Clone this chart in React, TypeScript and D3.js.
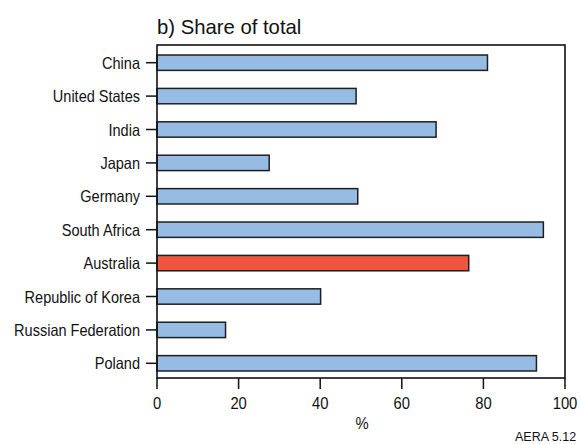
import React from "react";
import * as d3 from "d3";

const countries = [
  "China",
  "United States",
  "India",
  "Japan",
  "Germany",
  "South Africa",
  "Australia",
  "Republic of Korea",
  "Russian Federation",
  "Poland",
];
const sharePct = [81.0, 48.8, 68.4, 27.5, 49.2, 94.7, 76.4, 40.1, 16.8, 93.0];
const highlight = "Australia";
const xTicks = [0, 20, 40, 60, 80, 100];

const W = 580;
const H = 444;
const frame = { left: 157, right: 565, top: 45, bottom: 378 };

const font = "'Liberation Sans', Arial, Helvetica, sans-serif";
// horizontal squeeze that gives the axis labels a narrow-face look
const narrow = 0.87;

function NarrowText(props: {
  x: number;
  y: number;
  anchor: "start" | "middle" | "end";
  size: number;
  dy?: string;
  children: React.ReactNode;
}) {
  return (
    <g transform={`translate(${props.x},${props.y}) scale(${narrow},1)`}>
      <text
        x={0}
        y={0}
        dy={props.dy}
        textAnchor={props.anchor}
        fontFamily={font}
        fontSize={props.size}
        fill="#111"
      >
        {props.children}
      </text>
    </g>
  );
}

export default function App() {
  const x = d3.scaleLinear().domain([0, 100]).range([frame.left, frame.right]);
  const y = d3
    .scaleBand<string>()
    .domain(countries)
    .range([46, 380])
    .paddingInner(0.54)
    .paddingOuter(0.27);

  return (
    <svg
      width={W}
      height={H}
      style={{ position: "absolute", left: 0, top: 0, background: "#fff" }}
    >
      <text x={157} y={34} fontFamily={font} fontSize={20.3} fill="#111">
        b) Share of total
      </text>

      {countries.map((c, i) => (
        <rect
          key={c}
          x={x(0)}
          y={y(c)!}
          width={x(sharePct[i]) - x(0)}
          height={y.bandwidth()}
          fill={c === highlight ? "#f0553d" : "#97bce4"}
          stroke="#1e1e1e"
          strokeWidth={1.5}
        />
      ))}

      <rect
        x={frame.left}
        y={frame.top}
        width={frame.right - frame.left}
        height={frame.bottom - frame.top}
        fill="none"
        stroke="#111"
        strokeWidth={1.6}
      />

      {countries.map((c) => {
        const cy = y(c)! + y.bandwidth() / 2;
        return (
          <g key={c}>
            <line x1={146} x2={frame.left} y1={cy} y2={cy} stroke="#111" strokeWidth={1.5} />
            <NarrowText x={140} y={cy} dy="0.36em" anchor="end" size={16.7}>
              {c}
            </NarrowText>
          </g>
        );
      })}

      {xTicks.map((t) => (
        <g key={t}>
          <line x1={x(t)} x2={x(t)} y1={frame.bottom} y2={389} stroke="#111" strokeWidth={1.5} />
          <NarrowText x={x(t)} y={409} anchor="middle" size={17}>
            {t}
          </NarrowText>
        </g>
      ))}

      <NarrowText x={362} y={429} anchor="middle" size={17}>
        %
      </NarrowText>
      <text x={515} y={441} fontFamily={font} fontSize={12.5} fill="#111">
        AERA 5.12
      </text>
    </svg>
  );
}
